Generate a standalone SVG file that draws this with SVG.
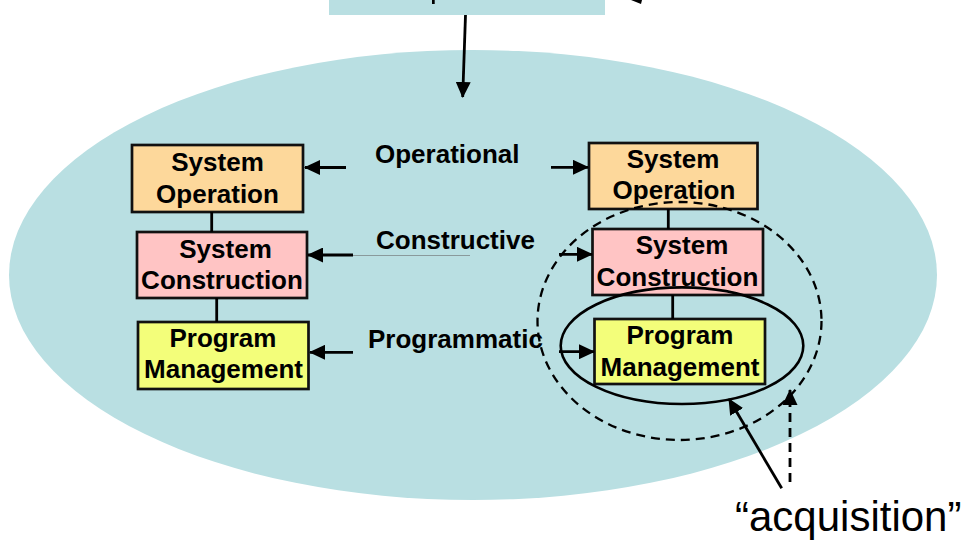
<svg xmlns="http://www.w3.org/2000/svg" width="961" height="540" viewBox="0 0 961 540">
<style>
.box{stroke:#111;stroke-width:2.7}
.bt{font-family:"Liberation Sans",Arial,sans-serif;font-weight:bold;font-size:26px;fill:#000;text-anchor:middle}
.lb{font-family:"Liberation Sans",Arial,sans-serif;font-weight:bold;font-size:26px;fill:#000}
.ln{stroke:#000;stroke-width:2.8;fill:none}
.ar{stroke:#000;stroke-width:2.8;fill:none;marker-end:url(#ah)}
</style>
<defs>
<marker id="ah" viewBox="0 0 16 15" refX="15" refY="7.5" markerWidth="16" markerHeight="15" orient="auto" markerUnits="userSpaceOnUse">
<path d="M0,0 L16,7.5 L0,15 z" fill="#000"/>
</marker>
</defs>
<rect width="961" height="540" fill="#fff"/>
<g id="background">
<ellipse cx="473" cy="275" rx="464" ry="225" fill="#b9dfe2"/>
<rect id="top-box" x="329" y="0" width="276" height="15" fill="#b9dfe2"/>
<rect x="432" y="0" width="2.7" height="4" fill="#000"/>
<polygon points="631,0 642,0 641,4" fill="#000"/>
</g>
<g id="left-system-operation">
<rect class="box" x="132" y="145" width="171" height="67" fill="#fdd89b"/>
<text class="bt" x="217.5" y="171">System</text>
<text class="bt" x="217.5" y="202.5">Operation</text>
</g>
<g id="left-system-construction">
<rect class="box" x="137" y="232" width="170" height="66" fill="#ffc4c4"/>
<text class="bt" x="225.5" y="257.5">System</text>
<text class="bt" x="222" y="288.5">Construction</text>
</g>
<g id="left-program-management">
<rect class="box" x="138" y="322" width="170.5" height="67" fill="#f3fe7a"/>
<text class="bt" x="223" y="346.5">Program</text>
<text class="bt" x="223.5" y="378">Management</text>
</g>
<g id="right-system-operation">
<rect class="box" x="589" y="143" width="168.5" height="66" fill="#fdd89b"/>
<text class="bt" x="673" y="168">System</text>
<text class="bt" x="674" y="199">Operation</text>
</g>
<g id="right-system-construction">
<rect class="box" x="592.5" y="229" width="170.5" height="66" fill="#ffc4c4"/>
<text class="bt" x="682" y="254">System</text>
<text class="bt" x="677.5" y="285.5">Construction</text>
</g>
<g id="right-program-management">
<rect class="box" x="594.5" y="319" width="170.5" height="65" fill="#f3fe7a"/>
<text class="bt" x="680" y="344">Program</text>
<text class="bt" x="680" y="375.5">Management</text>
</g>
<g id="labels">
<text class="lb" x="375" y="163">Operational</text>
<text class="lb" x="376" y="249">Constructive</text>
<text class="lb" x="368" y="348">Programmatic</text>
</g>
<g id="connectors">
<line class="ar" x1="465.5" y1="15" x2="462.7" y2="97"/>
<line class="ln" x1="211.7" y1="212" x2="211.7" y2="232"/>
<line class="ln" x1="216.7" y1="298" x2="216.7" y2="322"/>
<line class="ln" x1="668.3" y1="209" x2="668.3" y2="229"/>
<line class="ln" x1="672.7" y1="295" x2="672.7" y2="319"/>
<line class="ar" x1="346" y1="167.5" x2="305" y2="167.5"/>
<line class="ar" x1="353" y1="255" x2="308" y2="255"/>
<line x1="353" y1="255.5" x2="470" y2="255.5" stroke="#8a9a9c" stroke-width="1"/>
<line class="ar" x1="353" y1="352.3" x2="310" y2="352.3"/>
<line class="ar" x1="551" y1="167.3" x2="588" y2="167.3"/>
<line class="ar" x1="559" y1="254.3" x2="592" y2="254.3"/>
<line class="ar" x1="559" y1="351.7" x2="594" y2="351.7"/>
<ellipse cx="679.5" cy="321" rx="142" ry="119" fill="none" stroke="#000" stroke-width="2.3" stroke-dasharray="9 6"/>
<ellipse cx="682" cy="345.7" rx="121.3" ry="58.3" fill="none" stroke="#000" stroke-width="2.6"/>
<line class="ar" x1="781.7" y1="488.3" x2="729" y2="399"/>
<line class="ar" x1="790" y1="482" x2="790" y2="390" stroke-dasharray="9 6"/>
</g>
<text x="735" y="531" font-family="'Liberation Sans',Arial,sans-serif" font-size="42" fill="#000">“acquisition”</text>
</svg>
